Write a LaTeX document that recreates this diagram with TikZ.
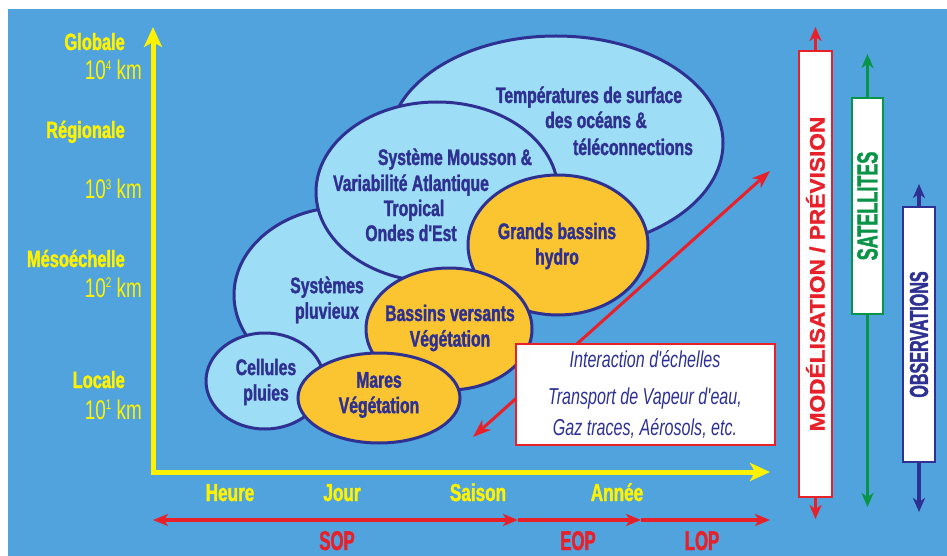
\documentclass[tikz,border=0pt]{standalone}
\usepackage{fontspec}
\newfontfamily\cfa[FakeStretch=0.7, BoldFeatures={FakeBold=1.5}]{Liberation Sans}
\newfontfamily\cfb[FakeStretch=0.62, BoldFeatures={FakeBold=1.5}]{Liberation Sans}
\newfontfamily\cfd[FakeStretch=1.08, BoldFeatures={FakeBold=1.2}]{Liberation Sans}
\usetikzlibrary{arrows.meta,shapes.geometric}
\definecolor{bg}{RGB}{80,163,221}
\definecolor{ylw}{RGB}{255,242,0}
\definecolor{rd}{RGB}{232,32,42}
\definecolor{grn}{RGB}{10,148,72}
\definecolor{nvy}{RGB}{46,49,146}
\definecolor{lb}{RGB}{158,221,246}
\definecolor{org}{RGB}{251,197,50}
\newcommand\pw[1]{\raisebox{9.5pt}{\fontsize{14}{14}\selectfont #1}}
\tikzset{
  redtip/.tip={Stealth[length=15pt,width=12pt,inset=4pt]},
  vtip/.tip={Stealth[length=14pt,width=12pt,inset=4pt]},
  ytip/.tip={Stealth[length=20pt,width=18pt,inset=5pt]},
  dtip/.tip={Stealth[length=18pt,width=13pt,inset=5pt]}
}
\begin{document}
\begin{tikzpicture}[x=1pt,y=-1pt,
  scalelbl/.style={font=\cfa\fontsize{23.5}{26}\selectfont\bfseries, text=ylw, anchor=base east, inner sep=0pt},
  kmlbl/.style={font=\cfa\fontsize{27}{28}\selectfont, text=ylw, anchor=base east, inner sep=0pt},
  timelbl/.style={font=\cfa\fontsize{24.5}{26}\selectfont\bfseries, text=ylw, anchor=base, inner sep=0pt},
  phase/.style={font=\cfb\fontsize{27}{29}\selectfont\bfseries, text=rd, anchor=base, inner sep=0pt},
  blob/.style={ellipse, draw=nvy, line width=3pt, inner sep=0pt},
  sky/.style={blob, fill=lb},
  sun/.style={blob, fill=org},
  etxt/.style={font=\cfa\fontsize{22.5}{25.5}\selectfont\bfseries, text=nvy, inner sep=0pt, align=center},
  eline/.style={etxt, anchor=base},
  yaxis/.style={draw=ylw, line width=5pt, line join=miter, {ytip}-{ytip}},
  tline/.style={draw=rd, line width=4pt},
  vbox/.style={rectangle, fill=white, line width=2pt, inner sep=0pt, rotate=90},
  varrow/.style={line width=3.5pt, -{vtip}},
  ibox/.style={rectangle, draw=rd, fill=white, line width=2pt, minimum width=259pt, minimum height=101pt, inner sep=0pt, align=center, text=nvy, font=\cfa\fontsize{23}{30}\selectfont\itshape}
]
\useasboundingbox (0,0) rectangle (947,556);
\fill[white] (0,0) rectangle (947,556);
\fill[bg] (8,9) rectangle (947,556);

% axes
\coordinate (yend) at (153,27);
\coordinate (xend) at (770,472);
\draw[yaxis] (yend) |- (xend);

% scale labels
\node[scalelbl] (glob) at (125,50) {Globale};
\node[kmlbl] (km4) at (142,80) {10\pw{4} km};
\node[scalelbl] (reg) at (125,138) {Régionale};
\node[kmlbl] (km3) at (142,199) {10\pw{3} km};
\node[scalelbl] (meso) at (125,267) {Mésoéchelle};
\node[kmlbl] (km2) at (142,297) {10\pw{2} km};
\node[scalelbl] (loc) at (125,388) {Locale};
\node[kmlbl] (km1) at (142,419) {10\pw{1} km};

% time labels
\node[timelbl] (heure) at (230,501) {Heure};
\node[timelbl] (jour) at (342,501) {Jour};
\node[timelbl] (saison) at (478,501) {Saison};
\node[timelbl] (annee) at (617,501) {Année};

% time phases
\coordinate (p0) at (153,520);
\coordinate (p1) at (518,520);
\coordinate (p2) at (641,520);
\coordinate (p3) at (770,520);
\draw[tline, {redtip}-{redtip}] (p0) -- (p1);
\draw[tline, -{redtip}] (p1) -- (p2);
\draw[tline, -{redtip}] (p2) -- (p3);
\node[phase] (sop) at (337,550) {SOP};
\node[phase] (eop) at (578,550) {EOP};
\node[phase] (lop) at (702,550) {LOP};

% ellipses
\node[sky, minimum width=334pt, minimum height=214pt] (big) at (556,143) {};
\node[sky, minimum width=222pt, minimum height=176pt] (pluv) at (345,295) {};
\node[sky, minimum width=242pt, minimum height=180pt] (mous) at (437,192) {};
\node[sky, minimum width=118pt, minimum height=96pt] (cell) at (265,381) {};
\node[sun, minimum width=180pt, minimum height=140pt] (grand) at (558,245) {};
\node[sun, minimum width=166pt, minimum height=122pt] (vers) at (449,329) {};
\node[sun, minimum width=162pt, minimum height=90pt] (mares) at (379,398) {};

% ellipse texts
\node[eline] (t1) at (589,103) {Températures de surface};
\node[eline] (t2) at (596,128) {des océans \&};
\node[eline] (t3) at (633,155) {téléconnections};
\node[eline] (m1) at (455,165) {Système Mousson \&};
\node[eline] (m2) at (411,191) {Variabilité Atlantique};
\node[eline] (m3) at (414,216) {Tropical};
\node[eline] (m4) at (411,241) {Ondes d'Est};
\node[etxt] (pt) at (327,300) {Systèmes\\pluvieux};
\node[etxt] (ct) at (266,382) {Cellules\\pluies};
\node[etxt] (gt) at (557,246) {Grands bassins\\hydro};
\node[etxt] (vt) at (450,328) {Bassins versants\\Végétation};
\node[etxt] (mt) at (379,395) {Mares\\Végétation};

% interaction
\coordinate (da) at (473,437);
\coordinate (db) at (770,171);
\draw[draw=rd, line width=3pt, {dtip}-{dtip}] (da) -- (db);
\node[ibox] (inter) at (645,394.5) {Interaction d'échelles\\[7pt]Transport de Vapeur d'eau,\\Gaz traces, Aérosols, etc.};

% vertical boxes
\node[vbox, draw=rd, text=rd, minimum width=446pt, minimum height=33pt, font=\cfd\fontsize{21}{22}\selectfont\bfseries] (mod) at (815.5,274) {MODÉLISATION / PRÉVISION};
\coordinate (modt) at (815.5,27);
\coordinate (modb) at (815.5,519);
\draw[varrow, draw=rd] (mod.east) -- (modt);
\draw[varrow, draw=rd] (mod.west) -- (modb);

\node[vbox, draw=grn, text=grn, minimum width=216pt, minimum height=31pt, font=\cfb\fontsize{29}{30}\selectfont\bfseries] (sat) at (867.5,206) {SATELLITES};
\coordinate (satt) at (867.5,54);
\coordinate (satb) at (867.5,507);
\draw[varrow, draw=grn] (sat.east) -- (satt);
\draw[varrow, draw=grn] (sat.west) -- (satb);

\node[vbox, draw=nvy, text=nvy, minimum width=255pt, minimum height=32pt, font=\cfb\fontsize{26}{28}\selectfont\bfseries] (obs) at (919,334.5) {OBSERVATIONS};
\coordinate (obst) at (919,184);
\coordinate (obsb) at (919,512);
\draw[varrow, draw=nvy] (obs.east) -- (obst);
\draw[varrow, draw=nvy] (obs.west) -- (obsb);
\end{tikzpicture}
\end{document}
